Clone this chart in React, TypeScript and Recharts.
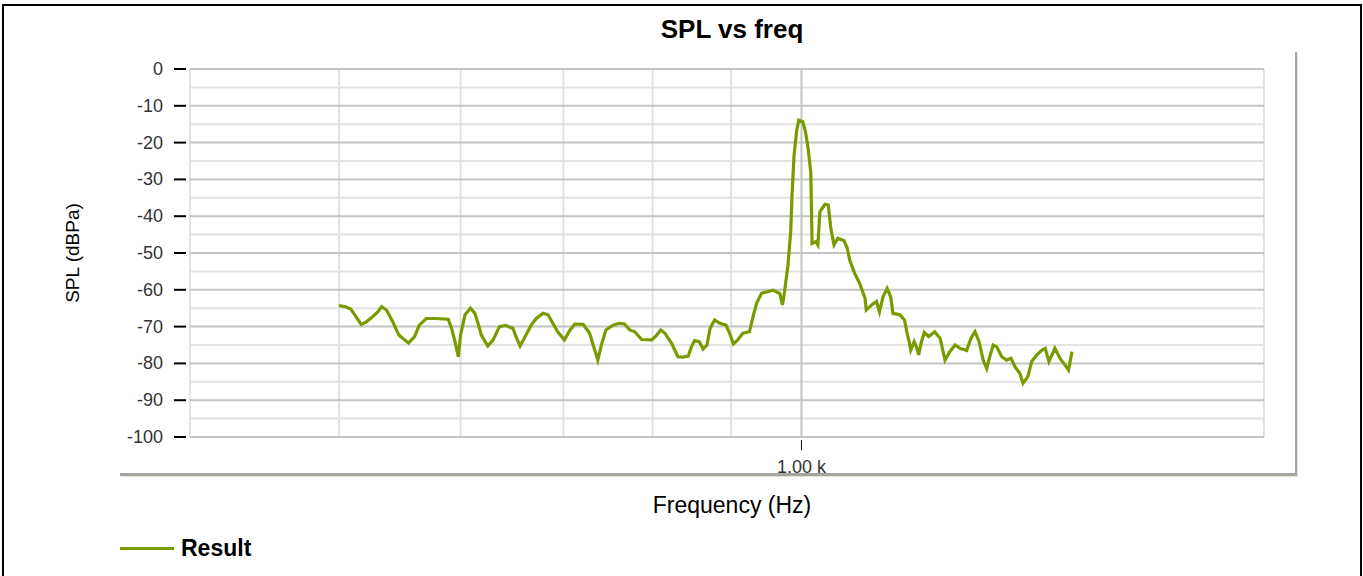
import React from "react";
import { LineChart, Line, XAxis, YAxis, CartesianGrid } from "recharts";

const freqHz = [
  500, 505, 509, 512, 517, 521, 526, 530, 533, 537, 542, 547, 555, 560, 564, 570, 578, 589, 592, 595,
  598, 600, 604, 609, 613, 617, 619, 625, 630, 636, 642, 649, 652, 656, 660, 667, 672, 679, 684, 689,
  694, 701, 707, 712, 721, 728, 733, 737, 741, 746, 754, 761, 767, 773, 779, 787, 799, 805, 810, 815,
  823, 831, 837, 844, 848, 852, 858, 863, 868, 872, 878, 885, 893, 898, 903, 909, 916, 925, 930, 935,
  942, 951, 958, 968, 972, 975, 980, 984, 986, 989, 993, 996, 1002, 1006, 1010, 1014, 1015, 1016, 1022, 1025,
  1028, 1036, 1041, 1045, 1050, 1056, 1066, 1071, 1075, 1083, 1091, 1100, 1102, 1114, 1119, 1124, 1130, 1137, 1143, 1147,
  1159, 1167, 1171, 1175, 1178, 1184, 1188, 1192, 1197, 1202, 1210, 1221, 1231, 1240, 1249, 1259, 1268, 1281, 1289, 1297,
  1305, 1313, 1320, 1327, 1333, 1340, 1350, 1360, 1369, 1377, 1387, 1394, 1404, 1412, 1423, 1434, 1441, 1449, 1462, 1473,
  1484, 1492, 1500,
];

const splDb = [
  -64.3, -64.6, -65.2, -66.8, -69.4, -68.7, -67.3, -66.0, -64.6, -65.5, -68.7, -72.3, -74.5, -72.7, -69.6, -67.8, -67.8, -68.0, -70.5, -74.1,
  -78.2, -72.3, -66.8, -65.0, -66.4, -70.2, -72.3, -75.3, -73.6, -70.0, -69.7, -70.5, -72.7, -75.3, -73.2, -69.6, -67.8, -66.4, -66.8, -69.1,
  -71.4, -73.6, -70.9, -69.3, -69.4, -71.8, -75.9, -79.1, -75.0, -70.9, -69.6, -69.1, -69.3, -70.9, -71.4, -73.5, -73.6, -72.3, -70.9, -71.8,
  -74.5, -78.2, -78.3, -78.0, -75.5, -73.8, -74.1, -76.1, -75.0, -70.5, -68.2, -69.1, -69.6, -71.8, -74.7, -73.6, -71.8, -71.4, -67.3, -63.7,
  -60.9, -60.5, -60.1, -61.0, -64.1, -60.5, -53.3, -44.2, -34.2, -23.4, -16.6, -13.9, -14.3, -17.0, -21.5, -27.9, -37.0, -47.4, -46.9, -47.8,
  -38.8, -36.8, -37.0, -43.3, -47.8, -46.0, -46.7, -48.7, -51.9, -55.5, -58.2, -62.3, -65.5, -63.7, -63.2, -66.0, -61.9, -59.6, -61.9, -66.4,
  -66.8, -68.2, -71.4, -74.0, -76.4, -74.1, -75.5, -77.7, -74.1, -71.6, -72.7, -71.4, -73.2, -79.1, -76.8, -75.0, -75.9, -76.5, -73.2, -71.4,
  -74.1, -79.1, -81.4, -77.7, -75.0, -75.5, -78.2, -79.1, -78.6, -80.9, -82.7, -85.4, -83.6, -79.5, -77.7, -76.4, -75.9, -79.5, -75.9, -78.6,
  -80.4, -81.8, -76.8,
];

const yTicks = [0, -10, -20, -30, -40, -50, -60, -70, -80, -90, -100];
const yMinor = [-5, -15, -25, -35, -45, -55, -65, -75, -85, -95];
const xTicks = [1000];
const xMinor = [400, 500, 600, 700, 800, 900, 2000];

const seriesName = "Result";
const lineColor = "#789b00";
const font = "'Liberation Sans', Arial, sans-serif";

const data = freqHz.map((f, i) => ({ f, spl: splDb[i] }));

const YTick = (props: any) => {
  const { x, y, payload } = props;
  return (
    <g>
      <line x1={x - 16} x2={x - 4} y1={y} y2={y} stroke="#000" strokeWidth={2} />
      <text x={x - 27} y={y} textAnchor="end" dominantBaseline="central" fontSize={18} fill="#333" fontFamily={font}>
        {payload.value}
      </text>
    </g>
  );
};

const XTick = (props: any) => {
  const { x, y, payload } = props;
  return (
    <g>
      <line x1={x} x2={x} y1={y + 3} y2={y + 13} stroke="#000" strokeWidth={1} />
      <text x={x} y={y + 30} textAnchor="middle" dominantBaseline="central" fontSize={18} fill="#333" fontFamily={font}>
        {(payload.value / 1000).toFixed(2) + " k"}
      </text>
    </g>
  );
};

const yLabel = (props: any) => {
  const vb = props.viewBox;
  const cx = vb.x + 72;
  const cy = vb.y + vb.height / 2;
  return (
    <text x={cx} y={cy} transform={`rotate(-90 ${cx} ${cy})`} textAnchor="middle" dominantBaseline="central" fontSize={19} fill="#000" fontFamily={font}>
      SPL (dBPa)
    </text>
  );
};

const xLabel = (props: any) => {
  const vb = props.viewBox;
  return (
    <text x={vb.x + vb.width / 2 + 5} y={vb.y + 68} textAnchor="middle" dominantBaseline="central" fontSize={23} fill="#000" fontFamily={font}>
      Frequency (Hz)
    </text>
  );
};

export default function App() {
  return (
    <div style={{ position: "absolute", left: 0, top: 0, width: 1363, height: 576, overflow: "hidden", background: "#fff", fontFamily: font }}>
      {/* outer frame */}
      <div style={{ position: "absolute", left: 2, top: 4, width: 1356, height: 600, border: "2px solid #000" }} />
      {/* chart panel shadow */}
      <div
        style={{
          position: "absolute",
          left: 120,
          top: 52,
          width: 1175,
          height: 421,
          borderRight: "2px solid #a4a4a0",
          borderBottom: "3px solid #a4a4a0",
          boxShadow: "1px 1px 0 #e6e2d4",
        }}
      />
      <div style={{ position: "absolute", left: 0, width: 1464, top: 14, textAlign: "center", fontSize: 26, fontWeight: "bold", color: "#000" }}>
        SPL vs freq
      </div>
      <div style={{ position: "absolute", left: 0, top: 0 }}>
        <LineChart width={1363} height={576} data={data} margin={{ top: 69, right: 99, bottom: 0, left: 0 }}>
          <CartesianGrid horizontalValues={yMinor} verticalValues={xMinor} stroke="#e2e2e2" strokeWidth={2} />
          <CartesianGrid horizontalValues={yTicks} verticalValues={xTicks} stroke="#c4c4c4" strokeWidth={2} />
          <XAxis
            dataKey="f"
            type="number"
            scale="log"
            domain={[400, 2000]}
            allowDataOverflow
            ticks={xTicks}
            interval={0}
            axisLine={false}
            tickLine={false}
            tickSize={0}
            tickMargin={0}
            height={139}
            tick={<XTick />}
            label={xLabel}
          />
          <YAxis
            type="number"
            domain={[-100, 0]}
            ticks={yTicks}
            interval={0}
            axisLine={false}
            tickLine={false}
            tickSize={0}
            tickMargin={0}
            width={190}
            tick={<YTick />}
            label={yLabel}
          />
          <Line
            dataKey="spl"
            name={seriesName}
            type="linear"
            stroke={lineColor}
            strokeWidth={3.2}
            dot={false}
            isAnimationActive={false}
          />
        </LineChart>
      </div>
      {/* legend */}
      <div style={{ position: "absolute", left: 120, top: 535, display: "flex", alignItems: "center" }}>
        <div style={{ width: 54, height: 3, background: lineColor }} />
        <span style={{ marginLeft: 7, fontSize: 23, fontWeight: "bold", color: "#000" }}>{seriesName}</span>
      </div>
    </div>
  );
}
